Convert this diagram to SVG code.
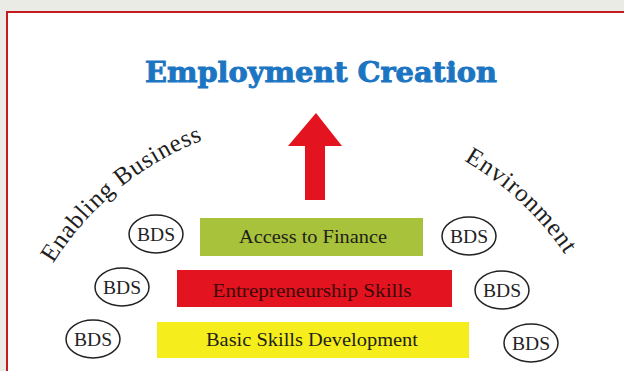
<svg xmlns="http://www.w3.org/2000/svg" width="624" height="371" viewBox="0 0 624 371">
  <defs>
    <style>
      .title { font-family: "DejaVu Serif", "Liberation Serif", serif; font-weight: bold; font-size: 27px; fill: #1b75c2; stroke: #1b75c2; stroke-width: 0.9; }
      .bar-label { font-family: "Liberation Serif", "DejaVu Serif", serif; font-size: 19px; text-anchor: middle; }
      .bds { fill: #ffffff; stroke: #222222; stroke-width: 1.5; }
      .bds-label { font-family: "Liberation Serif", "DejaVu Serif", serif; font-size: 19px; fill: #222222; text-anchor: middle; }
      .arc-label { font-family: "Liberation Serif", "DejaVu Serif", serif; font-size: 25px; fill: #1e1e1e; }
    </style>
    <!-- baseline arc for the curved caption, over the top -->
    <path id="envArc" d="M 7,425 A 305 305 0 0 1 617,425" fill="none"/>
  </defs>

  <!-- page background and framed panel -->
  <rect x="0" y="0" width="624" height="371" fill="#ebebe6"/>
  <rect x="7" y="12" width="630" height="370" fill="#ffffff" stroke="#c41a20" stroke-width="2"/>

  <g id="title">
    <text class="title" x="145" y="82" textLength="352" lengthAdjust="spacingAndGlyphs">Employment Creation</text>
  </g>

  <g id="enabling-environment">
    <text class="arc-label"><textPath href="#envArc" startOffset="170" textLength="197" lengthAdjust="spacing">Enabling Business</textPath></text>
    <text class="arc-label"><textPath href="#envArc" startOffset="638" textLength="139" lengthAdjust="spacing">Environment</textPath></text>
  </g>

  <g id="connectors">
    <!-- upward arrow from the skills stack to employment creation -->
    <polygon points="316,113 342,146 325,146 325,200 305,200 305,146 288,146" fill="#e3131f"/>
  </g>

  <g id="access-to-finance">
    <rect x="200" y="218" width="223" height="38" fill="#a8c23c"/>
    <text class="bar-label" x="313" y="243" fill="#1f1f1a" textLength="148" lengthAdjust="spacingAndGlyphs">Access to Finance</text>
  </g>

  <g id="entrepreneurship-skills">
    <rect x="177" y="270" width="275" height="37" fill="#e3131f"/>
    <text class="bar-label" x="312" y="297" fill="#3d0a0a" textLength="199" lengthAdjust="spacingAndGlyphs">Entrepreneurship Skills</text>
  </g>

  <g id="basic-skills-development">
    <rect x="157" y="322" width="312" height="36" fill="#f6ee1c"/>
    <text class="bar-label" x="312" y="346" fill="#1f1f1a" textLength="212" lengthAdjust="spacingAndGlyphs">Basic Skills Development</text>
  </g>

  <g id="bds-left-1">
    <ellipse class="bds" cx="156" cy="234" rx="27" ry="19"/>
    <text class="bds-label" x="156" y="241" textLength="38" lengthAdjust="spacingAndGlyphs">BDS</text>
  </g>
  <g id="bds-left-2">
    <ellipse class="bds" cx="122" cy="287" rx="27" ry="19"/>
    <text class="bds-label" x="122" y="294" textLength="38" lengthAdjust="spacingAndGlyphs">BDS</text>
  </g>
  <g id="bds-left-3">
    <ellipse class="bds" cx="93" cy="339" rx="27" ry="19"/>
    <text class="bds-label" x="93" y="346" textLength="38" lengthAdjust="spacingAndGlyphs">BDS</text>
  </g>
  <g id="bds-right-1">
    <ellipse class="bds" cx="469" cy="236" rx="27" ry="19"/>
    <text class="bds-label" x="469" y="243" textLength="38" lengthAdjust="spacingAndGlyphs">BDS</text>
  </g>
  <g id="bds-right-2">
    <ellipse class="bds" cx="502" cy="290" rx="27" ry="19"/>
    <text class="bds-label" x="502" y="297" textLength="38" lengthAdjust="spacingAndGlyphs">BDS</text>
  </g>
  <g id="bds-right-3">
    <ellipse class="bds" cx="531" cy="343" rx="27" ry="19"/>
    <text class="bds-label" x="531" y="350" textLength="38" lengthAdjust="spacingAndGlyphs">BDS</text>
  </g>
</svg>
